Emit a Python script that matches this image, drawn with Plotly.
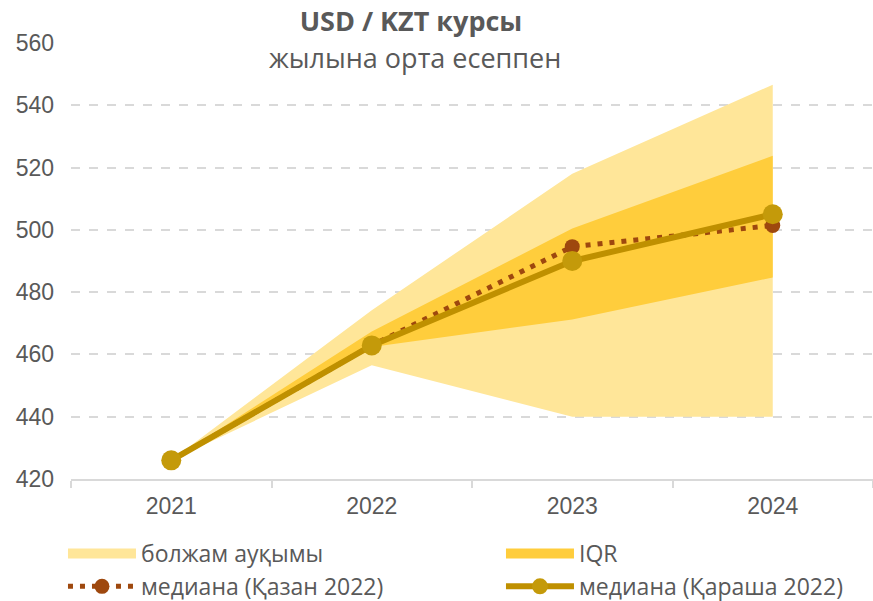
import plotly.graph_objects as go

years = ["2021", "2022", "2023", "2024"]
range_low = [426, 456.5, 440, 440]
range_high = [426, 474.2, 518, 546.6]
iqr_low = [426, 462.4, 471.2, 484.7]
iqr_high = [426, 467.4, 500.4, 523.8]
median_oct = [426, 462.9, 494.6, 501.4]
median_nov = [426, 462.9, 490.0, 505.0]
y_ticks = [420, 440, 460, 480, 500, 520, 540, 560]

C_RANGE = "#FFE699"
C_IQR = "#FFCD3C"
C_OCT = "#9E480E"
C_NOV = "#BF9000"
GRAY = "#595959"
GRID = "#D9D9D9"

fig = go.Figure()

fig.add_trace(go.Scatter(x=years, y=range_low, mode="lines", line=dict(width=0, color=C_RANGE),
                         showlegend=False, hoverinfo="skip"))
fig.add_trace(go.Scatter(x=years, y=range_high, mode="lines", line=dict(width=0, color=C_RANGE),
                         fill="tonexty", fillcolor=C_RANGE, name="болжам ауқымы",
                         legendgroup="range", showlegend=False))
fig.add_trace(go.Scatter(x=years, y=iqr_low, mode="lines", line=dict(width=0, color=C_IQR),
                         showlegend=False, hoverinfo="skip"))
fig.add_trace(go.Scatter(x=years, y=iqr_high, mode="lines", line=dict(width=0, color=C_IQR),
                         fill="tonexty", fillcolor=C_IQR, name="IQR",
                         legendgroup="iqr", showlegend=False))
# legend swatches for the bands
fig.add_trace(go.Scatter(x=[None], y=[None], mode="lines", name="болжам ауқымы",
                         line=dict(color=C_RANGE, width=14), legendgroup="range"))
fig.add_trace(go.Scatter(x=[None], y=[None], mode="lines", name="IQR",
                         line=dict(color=C_IQR, width=14), legendgroup="iqr"))
fig.add_trace(go.Scatter(x=years, y=median_oct, mode="lines+markers", name="медиана (Қазан 2022)",
                         line=dict(color=C_OCT, width=5, dash="5px,7px"),
                         marker=dict(size=15, color=C_OCT)))
fig.add_trace(go.Scatter(x=years, y=median_nov, mode="lines+markers", name="медиана (Қараша 2022)",
                         line=dict(color=C_NOV, width=6),
                         marker=dict(size=20, color="#C49A0A")))

fig.update_layout(
    width=873, height=601,
    margin=dict(l=71, r=0, t=43, b=122, autoexpand=False),
    plot_bgcolor="white", paper_bgcolor="white",
    title=dict(text="<b>USD / KZT курсы</b>", x=411/873, xanchor="center",
               y=1-22/601, yanchor="middle", yref="container",
               font=dict(family="Open Sans", size=27, color=GRAY)),
    annotations=[dict(text="жылына орта есеппен", xref="paper", yref="paper",
                      x=(415-71)/803, y=1-(15/436), xanchor="center", yanchor="middle",
                      showarrow=False, font=dict(family="Open Sans", size=27, color=GRAY))],
    xaxis=dict(type="category", tickson="boundaries", ticks="outside", ticklen=7,
               tickcolor=GRID, tickwidth=1.5, showline=True, linecolor=GRID, linewidth=1.5,
               showgrid=False, range=[-0.5, 3.5],
               tickfont=dict(family="Liberation Sans, Arial", size=23, color=GRAY),
               ticklabelstandoff=6),
    yaxis=dict(range=[420, 560], tickvals=y_ticks, showgrid=True, gridcolor=GRID,
               griddash="dash", gridwidth=1.5, zeroline=False, showline=False,
               tickfont=dict(family="Liberation Sans, Arial", size=23, color=GRAY),
               ticklabelstandoff=16),
    legend=dict(orientation="h", traceorder="normal", xref="paper", yref="paper",
                x=-0.01, xanchor="left", y=(479-532)/436, yanchor="top",
                itemwidth=68, entrywidth=355,
                font=dict(family="Open Sans", size=23, color=GRAY),
                bgcolor="rgba(0,0,0,0)"),
)

fig.write_html("out.html")
